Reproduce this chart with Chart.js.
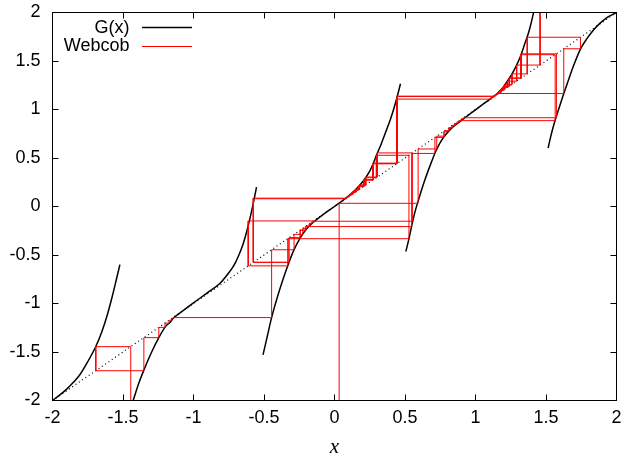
<!DOCTYPE html>
<html>
<head>
<meta charset="utf-8">
<script src="https://cdn.jsdelivr.net/npm/chart.js@4.4.1/dist/chart.umd.min.js"></script>
<style>
  html, body { margin: 0; padding: 0; background: #fff; }
</style>
</head>
<body>
<canvas id="chart" width="621" height="459"></canvas>
<script>
// axes
const xTicks = [-2, -1.5, -1, -0.5, 0, 0.5, 1, 1.5, 2];
const yTicks = [-2, -1.5, -1, -0.5, 0, 0.5, 1, 1.5, 2];
const diagonal = [-2, 2];

// G(x), one array of [x, y] per branch
const branch1 = [[-2, -2], [-1.95, -1.945], [-1.901, -1.885], [-1.85, -1.81], [-1.806, -1.735],
  [-1.75, -1.6], [-1.693, -1.443], [-1.65, -1.29], [-1.61, -1.11], [-1.575, -0.92],
  [-1.545, -0.74], [-1.522, -0.6]];
const branch2 = [[-1.428, -2.0], [-1.39, -1.83], [-1.352, -1.687], [-1.30, -1.51], [-1.244, -1.346],
  [-1.196, -1.233], [-1.163, -1.19], [-1.15, -1.162], [-1.1, -1.102], [-1.0, -0.993], [-0.9, -0.888],
  [-0.812, -0.792], [-0.743, -0.67], [-0.72, -0.622], [-0.7, -0.57], [-0.675, -0.49],
  [-0.65, -0.395], [-0.625, -0.27], [-0.6, -0.125], [-0.575, 0.04], [-0.553, 0.2]];
const branch3 = [[-0.507, -1.53], [-0.48, -1.36], [-0.447, -1.151], [-0.40, -0.91], [-0.365, -0.75],
  [-0.329, -0.60], [-0.29, -0.455], [-0.246, -0.33], [-0.2, -0.235], [-0.152, -0.165], [-0.1, -0.105],
  [-0.05, -0.05], [0, 0], [0.05, 0.052], [0.1, 0.11], [0.15, 0.175], [0.2, 0.255], [0.25, 0.365],
  [0.274, 0.44], [0.298, 0.53], [0.33, 0.64], [0.369, 0.79], [0.397, 0.9], [0.433, 1.07], [0.468, 1.265]];
const branch4 = [[0.506, -0.464], [0.529, -0.326], [0.546, -0.21], [0.57, -0.06], [0.593, 0.055],
  [0.64, 0.27], [0.688, 0.46], [0.72, 0.575], [0.76, 0.685], [0.818, 0.79], [0.87, 0.855],
  [0.93, 0.92], [1.0, 0.997], [1.07, 1.073], [1.137, 1.145], [1.18, 1.2], [1.22, 1.28],
  [1.26, 1.37], [1.291, 1.455], [1.314, 1.53], [1.35, 1.68], [1.38, 1.81], [1.409, 1.98], [1.42, 2.06]];
const branch5 = [[1.515, 0.602], [1.53, 0.7], [1.55, 0.815], [1.575, 0.935], [1.6, 1.05],
  [1.625, 1.16], [1.655, 1.285], [1.69, 1.43], [1.745, 1.625], [1.79, 1.73], [1.834, 1.815],
  [1.88, 1.885], [1.93, 1.945], [2.0, 2.0]];

// webcob runs: successive values on the diagonal (first one is off the plot)
const webcobA = [-2.1, 0.033, 0.593, 0.725, 0.782, 0.814, 0.837, 0.856, 0.871, 0.885, 1.565,
  1.322, 1.239, 1.2, 1.18, 1.164, 1.152, 1.142, 1.135, 0.445, 0.275, 0.209, 0.171, 0.147, 0.128,
  0.114, 0.103, 0.094, 0.087, 0.08, -0.575, -0.323, -0.244, -0.204, -0.179, -0.162, -0.149,
  -0.612, -0.332, 0.528, 0.297, 0.219, 0.176, 0.151, 0.131, 0.116, 0.105, 0.096, 0.088];
const webcobB = [-2.1, -1.445, -1.693, -1.352, -1.246, -1.202, -1.172, -1.155, -1.145, -0.446,
  -0.287, -0.225, -0.207, 0.547, 0.712, 0.775, 0.81, 0.834, 0.853, 0.868, 0.881, 0.894, 0.905,
  0.915, 1.574, 1.325, 1.241, 1.2, 1.18, 1.164, 1.152, 1.142, 1.135, 1.128, 1.121, 1.114, 1.107,
  0.44, 0.273, 0.208, 0.17, 0.146, 0.127, 0.113, 0.102, 0.093, 0.086, -0.576, -0.323, -0.244,
  -0.204, -0.179, -0.162, -0.152, 0.5525, 0.304, 0.222, 0.178, 0.152, 0.132, 0.117, 0.106, 0.097];
const webcobC = [2.1, 1.458, 1.292, 1.226, 1.193, 1.175, 1.165, 1.626, 1.745, 1.367, 1.259, 1.209,
  1.184, 1.167, 1.154, 1.144, 1.137, 0.446, 0.2755, 0.209, 0.171, 0.147, 0.128, 0.114, 0.103];

function pairs(arr) {
  return arr.map(p => ({ x: p[0], y: p[1] }));
}

// horizontal to the curve, then vertical back to the diagonal
function cobweb(run) {
  const pts = [{ x: run[1], y: run[0] }];
  for (let i = 1; i < run.length; i++) {
    pts.push({ x: run[i], y: run[i] });
    if (i + 1 < run.length) pts.push({ x: run[i + 1], y: run[i] });
  }
  return pts;
}

const curveStyle = {
  borderColor: '#000', borderWidth: 1.5, pointRadius: 0, showLine: true,
  cubicInterpolationMode: 'monotone', order: 1
};
const webStyle = {
  borderColor: '#ff0000', borderWidth: 1, pointRadius: 0, showLine: true, tension: 0, order: 0
};

const datasets = [
  { data: pairs([[diagonal[0], diagonal[0]], [diagonal[1], diagonal[1]]]), borderColor: '#000',
    borderWidth: 1.2, borderDash: [1, 3], pointRadius: 0, showLine: true, order: 2 },
  ...[branch1, branch2, branch3, branch4, branch5].map(b => ({ data: pairs(b), ...curveStyle })),
  ...[webcobA, webcobB, webcobC].map(r => ({ data: cobweb(r), ...webStyle }))
];

const FONT = '"Liberation Sans", Arial, sans-serif';

// box, inner tick marks and key, gnuplot style
const frame = {
  id: 'frame',
  afterDraw(chart) {
    const { ctx, chartArea: a, scales: { x, y } } = chart;
    ctx.save();
    ctx.strokeStyle = '#000';
    ctx.lineWidth = 1;
    ctx.beginPath();
    const len = 6;
    xTicks.forEach(v => {
      const px = Math.round(x.getPixelForValue(v) - 0.5) + 0.5;
      ctx.moveTo(px, a.bottom); ctx.lineTo(px, a.bottom - len);
      ctx.moveTo(px, a.top); ctx.lineTo(px, a.top + len);
    });
    yTicks.forEach(v => {
      const py = Math.round(y.getPixelForValue(v) - 0.5) + 0.5;
      ctx.moveTo(a.left, py); ctx.lineTo(a.left + len, py);
      ctx.moveTo(a.right, py); ctx.lineTo(a.right - len, py);
    });
    ctx.stroke();
    ctx.strokeRect(a.left, a.top, a.right - a.left, a.bottom - a.top);

    // key
    ctx.font = '18px ' + FONT;
    ctx.fillStyle = '#000';
    ctx.textAlign = 'right';
    ctx.textBaseline = 'middle';
    ctx.fillText('G(x)', 129.5, 28.5);
    ctx.fillText('Webcob', 129.5, 46.5);
    ctx.lineWidth = 1.5;
    ctx.beginPath(); ctx.moveTo(142, 27.5); ctx.lineTo(192, 27.5); ctx.stroke();
    ctx.strokeStyle = '#ff0000';
    ctx.lineWidth = 1;
    ctx.beginPath(); ctx.moveTo(142, 46.5); ctx.lineTo(192, 46.5); ctx.stroke();
    ctx.restore();
  }
};

Chart.defaults.font.family = FONT;
Chart.defaults.font.size = 18;
Chart.defaults.color = '#000';

function noPad(s) {
  s.paddingLeft = 0; s.paddingRight = 0; s.paddingTop = 0; s.paddingBottom = 0;
}

new Chart(document.getElementById('chart'), {
  type: 'scatter',
  data: { datasets },
  options: {
    responsive: false,
    animation: false,
    layout: { autoPadding: false, padding: { top: 12.5, right: 4.5, bottom: 0, left: 0 } },
    plugins: { legend: { display: false }, tooltip: { enabled: false } },
    scales: {
      x: {
        type: 'linear', min: -2, max: 2,
        afterBuildTicks: s => { s.ticks = xTicks.map(v => ({ value: v })); },
        afterFit: s => { s.height = 58.5; noPad(s); },
        grid: { display: false, drawTicks: false },
        border: { display: false },
        ticks: { padding: 7, maxRotation: 0, callback: v => String(v) },
        title: { display: true, text: 'x', padding: { top: 0, bottom: 0 },
          font: { family: '"Liberation Serif", "DejaVu Serif", serif', style: 'italic', size: 21,
            lineHeight: 1.1 } }
      },
      y: {
        type: 'linear', min: -2, max: 2,
        afterBuildTicks: s => { s.ticks = yTicks.map(v => ({ value: v })); },
        afterFit: s => { s.width = 52.5; noPad(s); },
        grid: { display: false, drawTicks: false },
        border: { display: false },
        ticks: { padding: 12, callback: v => String(v) }
      }
    }
  },
  plugins: [frame]
});
</script>
</body>
</html>
